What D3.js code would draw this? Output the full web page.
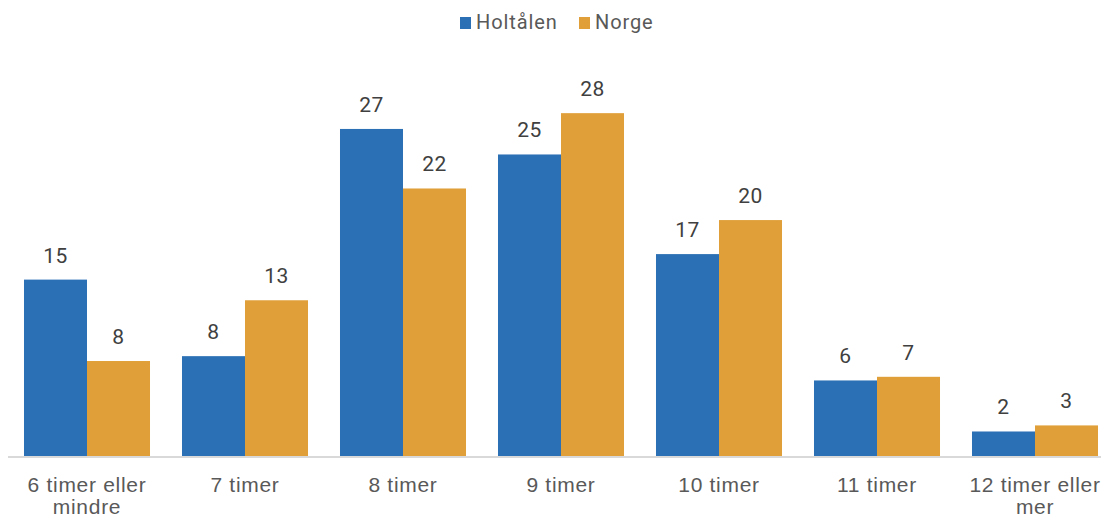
<!DOCTYPE html>
<html>
<head>
<meta charset="utf-8">
<script src="https://cdn.jsdelivr.net/npm/d3@7"></script>
<style>
  html, body { margin: 0; padding: 0; background: #fff; }
  svg { display: block; font-family: Roboto, "Noto Sans", sans-serif; }
</style>
</head>
<body>
<svg id="chart" width="1101" height="519"></svg>
<script>
const categories = [["6 timer eller", "mindre"], ["7 timer"], ["8 timer"], ["9 timer"], ["10 timer"], ["11 timer"], ["12 timer eller", "mer"]];
const seriesNames = ["Holtålen", "Norge"];
const holtalenValues = [14.6, 8.3, 27.0, 24.9, 16.7, 6.3, 2.1];
const norgeValues = [7.9, 12.9, 22.1, 28.3, 19.5, 6.6, 2.6];
const holtalenLabels = ["15", "8", "27", "25", "17", "6", "2"];
const norgeLabels = ["8", "13", "22", "28", "20", "7", "3"];
const colors = ["#2b6fb4", "#e09f38"];

const svg = d3.select("#chart");
const catKeys = categories.map(c => c.join(" "));
const series = [
  { name: seriesNames[0], values: holtalenValues, labels: holtalenLabels, color: colors[0] },
  { name: seriesNames[1], values: norgeValues, labels: norgeLabels, color: colors[1] }
];

const x = d3.scaleBand().domain(catKeys).range([8, 1114]).paddingInner(0.2025).paddingOuter(0.10125);
const xs = d3.scaleBand().domain(seriesNames).range([0, x.bandwidth()]).padding(0);
const y = d3.scaleLinear().domain([0, 30]).range([457, 92.5]);

// bars
series.forEach(s => {
  svg.append("g").selectAll("rect").data(s.values).join("rect")
    .attr("x", (d, i) => x(catKeys[i]) + xs(s.name))
    .attr("y", d => y(d))
    .attr("width", xs.bandwidth())
    .attr("height", d => y(0) - y(d))
    .attr("fill", s.color);
  svg.append("g").selectAll("text").data(s.values).join("text")
    .attr("x", (d, i) => x(catKeys[i]) + xs(s.name) + xs.bandwidth() / 2)
    .attr("y", d => y(d) - 17)
    .attr("text-anchor", "middle")
    .attr("font-size", 21)
    .attr("letter-spacing", 0.5)
    .attr("fill", "#404040")
    .text((d, i) => s.labels[i]);
});

// axis
const xAxis = d3.axisBottom(x).tickSize(0).tickFormat("");
const ax = svg.append("g").attr("transform", `translate(0,${y(0)})`).call(xAxis);
ax.select(".domain").attr("stroke", "#d9d9d9").attr("stroke-width", 2).attr("d", "M8,0H1101");
ax.selectAll(".tick").each(function(d, i) {
  const t = d3.select(this).append("text")
    .attr("text-anchor", "middle")
    .attr("fill", "#595959")
    .attr("font-size", 21)
    .attr("letter-spacing", 0.7)
    .attr("y", 35);
  categories[i].forEach((line, j) => {
    t.append("tspan").attr("x", 0).attr("dy", j === 0 ? 0 : 22).text(line);
  });
});

// legend
const legendItems = [{ name: seriesNames[0], color: colors[0], x: 460 }, { name: seriesNames[1], color: colors[1], x: 579 }];
const lg = svg.append("g");
legendItems.forEach(it => {
  lg.append("rect").attr("x", it.x).attr("y", 17).attr("width", 11).attr("height", 12).attr("fill", it.color);
  lg.append("text").attr("x", it.x + 16).attr("y", 29).attr("font-size", 20).attr("letter-spacing", 0.9).attr("fill", "#595959").text(it.name);
});
</script>
</body>
</html>
